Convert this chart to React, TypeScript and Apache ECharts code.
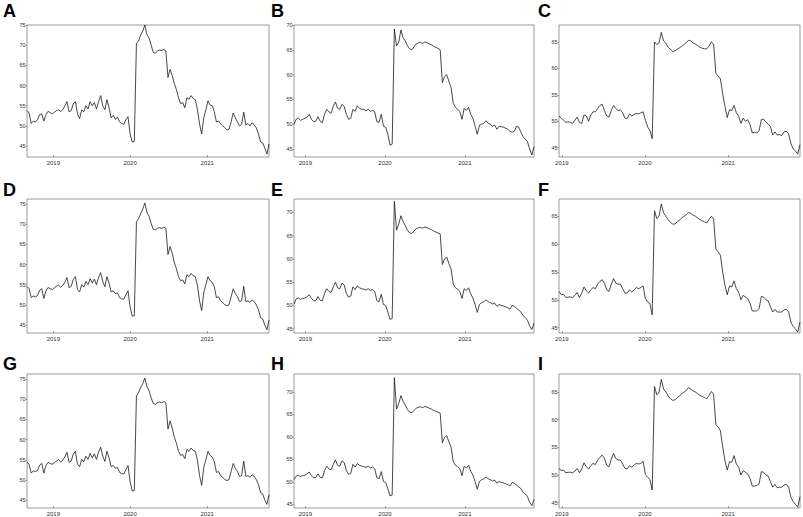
import React, { useEffect, useRef } from "react";
import * as echarts from "echarts";

// ---- data ----
const letters = ["A", "B", "C", "D", "E", "F", "G", "H", "I"];
const yearTicks = [2019, 2020, 2021];
const stepDays = 10;
// sampling start (UTC y, m, d) and point counts per column
const colStartYMD = [
  [2018, 7, 29],
  [2018, 10, 10],
  [2018, 11, 19],
];
const colCount = [116, 111, 107];

const seriesA = [
  53.8, 53.2, 50.6, 51.2, 51.0, 51.5, 52.8, 53.0, 51.2, 52.8,
  53.6, 53.3, 53.0, 53.4, 53.8, 54.0, 53.6, 54.0, 55.0, 56.0,
  53.5, 53.8, 55.5, 56.0, 53.0, 51.8, 54.0, 53.5, 55.0, 54.2,
  56.0, 55.0, 55.8, 54.2, 56.0, 57.5, 55.0, 54.0, 56.5, 54.5,
  52.0, 52.6, 51.6, 52.2, 51.0, 50.6, 50.4, 51.5, 52.3, 48.0,
  46.0, 46.2, 70.5, 71.0, 72.5, 73.5, 75.0, 72.6, 71.8, 70.0,
  68.2, 68.0, 68.6, 68.8, 68.7, 68.9, 68.6, 62.0, 64.0, 62.5,
  60.5, 59.0, 57.0, 55.5, 55.8, 54.5, 57.0, 56.6, 57.5, 56.8,
  56.5, 54.0, 50.5, 48.0, 52.0, 54.0, 56.2, 55.2, 55.0, 53.5,
  51.0, 51.2, 50.5, 50.0, 49.5, 49.0, 49.2, 51.0, 53.2, 52.0,
  51.0, 50.0, 50.4, 53.4, 50.2, 50.6, 50.0, 50.8, 50.2, 49.5,
  48.0, 46.0, 45.8, 44.5, 43.0, 45.5,
];
const seriesB = [
  50.0, 51.0, 51.2, 50.8, 51.0, 51.2, 51.4, 52.0, 51.0, 50.5,
  50.6, 51.5, 50.6, 50.3, 52.0, 53.0, 52.5, 52.2, 53.6, 54.5,
  53.2, 53.0, 54.0, 53.6, 52.0, 51.0, 51.2, 53.0, 52.6, 53.7,
  53.2, 53.0, 53.0, 52.7, 53.0, 52.6, 52.8, 52.5, 50.5, 50.4,
  52.0, 49.6, 49.4, 48.0, 45.8, 46.0, 69.2, 65.8, 66.5, 69.0,
  67.4, 66.8, 65.8, 65.2, 65.0, 65.6, 66.2, 66.4, 66.5, 66.3,
  66.6, 66.4, 66.2, 66.0, 65.7, 65.5, 65.3, 65.0, 58.4, 59.6,
  60.0, 58.6, 57.4, 54.2, 53.4, 53.0, 52.6, 51.0, 53.2, 52.8,
  53.4, 52.0, 51.2, 49.6, 48.0, 49.8, 50.0, 50.2, 50.7, 50.2,
  50.0, 49.6, 49.8, 49.0, 49.6, 49.5, 49.4, 49.2, 49.0, 48.6,
  48.4, 48.6, 49.6, 49.4, 48.4, 47.5, 47.0, 46.5, 45.0, 43.8,
  45.5,
];
const seriesC = [
  51.0, 50.6, 50.2, 49.8, 49.9, 49.8, 49.6, 50.2, 50.8, 49.8,
  49.6, 51.2, 51.0, 50.0, 51.2, 51.8, 51.8, 52.4, 53.0, 53.2,
  52.0, 51.0, 50.8, 52.0, 53.0, 52.4, 52.0, 52.2, 51.6, 50.6,
  50.5, 51.4, 51.0, 51.3, 51.5, 51.4, 51.6, 51.8, 50.2, 48.9,
  48.3, 46.7, 65.0, 64.5, 64.8, 66.8, 65.2, 64.8, 64.0, 63.6,
  63.2, 63.3, 63.6, 63.9, 64.2, 64.5, 64.9, 65.3, 65.2, 64.8,
  64.6, 64.3, 64.0, 63.8, 63.7, 63.7, 64.2, 65.0, 64.6, 59.0,
  58.6, 58.0, 55.2, 52.8, 50.7, 52.2, 52.0, 53.0, 51.6, 51.0,
  49.6, 50.6, 50.0, 50.3, 49.4, 47.8, 47.9, 47.8, 48.2, 50.3,
  50.4, 49.8, 49.5, 49.0, 47.4, 48.0, 47.4, 47.5, 47.3, 48.0,
  48.1, 47.6, 45.8, 44.8, 44.4, 43.8, 45.6,
];
const seriesD = [
  54.6, 54.0, 51.8, 52.2, 52.0, 52.3, 53.6, 54.0, 51.6, 53.5,
  54.3, 54.0, 53.8, 54.2, 54.6, 54.9, 54.4, 54.8, 55.6, 56.8,
  54.3, 54.6, 56.3, 57.0, 53.8, 53.2, 55.0, 54.4, 55.8, 55.0,
  56.5, 55.4, 56.4, 55.0, 56.8, 58.0, 55.8, 54.5, 57.0, 55.4,
  53.2, 53.5, 52.8, 53.0, 51.8, 51.5, 51.4, 52.5, 53.5, 49.5,
  47.2, 47.3, 70.6, 71.4, 72.6, 73.8, 75.3, 73.0, 72.0, 70.2,
  68.8, 68.6, 69.0, 69.2, 69.0, 69.3, 69.0, 62.5, 64.5, 62.8,
  60.5, 59.0, 57.0, 56.0, 56.2, 55.2, 57.5, 57.0, 57.8, 57.2,
  57.0, 54.8, 51.0, 48.6, 53.0, 55.0, 57.0, 56.0, 55.6, 54.5,
  51.8, 52.0, 51.0, 50.6, 50.0, 49.8, 50.0, 52.0, 54.0, 52.8,
  52.0, 50.8, 51.0, 54.6, 50.8, 51.0, 50.6, 51.2, 50.8, 50.0,
  48.8, 46.8, 46.5, 45.0, 43.8, 46.2,
];
const seriesE = [
  50.3, 51.4, 51.6, 51.3, 51.5, 51.6, 51.9, 52.3, 51.5, 51.0,
  51.0, 51.9, 51.1, 51.0, 52.6, 53.6, 53.0, 52.8, 54.0, 55.0,
  53.8, 53.6, 54.8, 54.4, 52.6, 51.8, 52.0, 54.0, 53.4, 54.2,
  53.8, 53.6, 53.5, 53.3, 53.6, 53.2, 53.4, 53.0, 51.0, 50.8,
  52.4, 50.2, 50.0, 48.6, 47.0, 47.2, 72.4, 66.2, 67.5, 69.3,
  68.0, 67.2, 66.2, 65.6, 65.5, 66.0, 66.5, 66.7, 66.8, 66.6,
  66.9, 66.7, 66.5, 66.3, 66.0, 65.8, 65.6, 65.4, 58.8, 60.0,
  60.4, 59.0, 57.8, 54.6, 53.8, 53.5, 53.0, 51.5, 53.6, 53.2,
  53.8, 52.5, 51.6, 50.2, 48.5, 50.2, 50.6, 50.8, 51.2, 50.8,
  50.6, 50.3, 50.5, 49.8, 50.2, 50.0, 49.9, 49.7, 49.5, 49.2,
  50.0, 49.8, 49.4, 49.0, 48.6, 47.8, 47.4, 46.8, 45.6, 44.8,
  46.2,
];
const seriesF = [
  51.5, 50.9, 51.0, 50.4, 50.5, 50.5, 50.4, 50.8, 51.3, 50.4,
  51.2, 52.3, 51.6, 51.2, 51.8, 52.2, 52.0, 52.8, 53.3, 53.6,
  53.0, 51.8, 51.5, 52.8, 53.8, 53.0, 52.8, 52.8, 52.0, 51.2,
  51.2, 51.8, 51.4, 51.8, 52.2, 52.0, 52.2, 52.5, 50.2, 49.6,
  49.3, 47.3, 66.0, 64.6, 65.0, 67.2, 65.6, 65.0, 64.4, 63.9,
  63.6, 63.6, 64.0, 64.3, 64.7, 65.0, 65.3, 65.7, 65.5, 65.2,
  65.0, 64.7, 64.4, 64.2, 64.0, 63.8, 64.4, 65.0, 64.6, 59.1,
  58.6, 58.0, 55.0, 52.6, 50.9, 52.5, 52.3, 53.4, 52.0, 51.4,
  50.0, 50.8, 50.5, 50.2, 49.4, 48.0, 48.0, 48.0, 48.4, 50.6,
  50.5, 50.0, 49.8, 48.8, 47.8, 48.3, 47.8, 47.8, 47.8, 48.2,
  48.3, 47.8, 46.0, 45.2, 44.8, 44.2, 46.0,
];
const seriesG = [
  54.4, 53.9, 51.7, 52.3, 52.1, 52.4, 53.7, 54.1, 51.7, 53.6,
  54.4, 54.1, 53.9, 54.3, 54.7, 55.0, 54.5, 54.9, 55.7, 56.9,
  54.4, 54.7, 56.4, 57.1, 53.9, 53.3, 55.1, 54.5, 55.9, 55.1,
  56.6, 55.5, 56.5, 55.1, 56.9, 58.1, 55.9, 54.6, 57.1, 55.5,
  53.3, 53.6, 52.9, 53.1, 51.9, 51.6, 51.5, 52.6, 53.6, 49.6,
  47.3, 47.4, 70.8, 71.6, 72.8, 73.8, 75.2, 73.1, 72.1, 70.3,
  68.9, 68.7, 69.1, 69.3, 69.1, 69.4, 69.1, 62.6, 64.6, 62.9,
  60.6, 59.1, 57.1, 56.1, 56.3, 55.3, 57.6, 57.1, 57.9, 57.3,
  57.1, 54.9, 51.1, 48.7, 53.1, 55.1, 57.1, 56.1, 55.7, 54.6,
  51.9, 52.1, 51.1, 50.7, 50.1, 49.9, 50.1, 52.1, 54.1, 52.9,
  52.1, 50.9, 51.1, 54.7, 50.9, 51.1, 50.7, 51.3, 50.9, 50.1,
  48.9, 46.9, 46.6, 45.1, 44.0, 46.4,
];
const seriesH = [
  50.5, 51.3, 51.5, 51.2, 51.4, 51.5, 51.8, 52.2, 51.4, 50.9,
  51.0, 51.8, 51.0, 50.9, 52.5, 53.5, 52.9, 52.7, 53.9, 54.9,
  53.7, 53.5, 54.7, 54.3, 52.5, 51.7, 51.9, 53.9, 53.3, 54.1,
  53.7, 53.5, 53.4, 53.2, 53.5, 53.1, 53.3, 52.9, 50.9, 50.7,
  52.3, 50.1, 49.9, 48.5, 46.9, 47.1, 73.2, 66.2, 67.4, 69.2,
  67.9, 67.1, 66.1, 65.5, 65.4, 65.9, 66.4, 66.6, 66.7, 66.5,
  66.8, 66.6, 66.4, 66.2, 65.9, 65.7, 65.5, 65.3, 58.7, 59.9,
  60.3, 58.9, 57.7, 54.5, 53.7, 53.4, 52.9, 51.4, 53.5, 53.1,
  53.7, 52.4, 51.5, 50.1, 48.4, 50.1, 50.5, 50.7, 51.1, 50.7,
  50.5, 50.2, 50.4, 49.7, 50.1, 49.9, 49.8, 49.6, 49.4, 49.1,
  49.9, 49.7, 49.3, 48.9, 48.5, 47.7, 47.3, 46.7, 45.5, 44.7,
  46.1,
];
const seriesI = [
  51.2, 50.8, 50.9, 50.4, 50.5, 50.5, 50.4, 50.7, 51.2, 50.4,
  51.1, 52.2, 51.5, 51.1, 51.7, 52.1, 51.9, 52.7, 53.2, 53.6,
  53.0, 51.8, 51.5, 52.8, 53.9, 53.0, 52.7, 52.7, 52.0, 51.2,
  51.1, 51.7, 51.4, 51.8, 52.1, 52.0, 52.1, 52.5, 50.1, 49.6,
  49.2, 47.3, 66.0, 64.5, 64.9, 67.3, 65.5, 65.0, 64.3, 63.8,
  63.5, 63.6, 64.0, 64.3, 64.7, 65.0, 65.3, 65.8, 65.5, 65.2,
  65.0, 64.7, 64.4, 64.2, 64.0, 63.8, 64.4, 65.1, 64.6, 59.1,
  58.7, 58.0, 55.1, 52.6, 50.9, 52.4, 52.3, 53.5, 52.0, 51.4,
  50.0, 50.8, 50.5, 50.2, 49.4, 48.0, 48.0, 48.1, 48.4, 50.6,
  50.5, 50.0, 49.8, 48.8, 47.8, 48.3, 47.7, 47.8, 47.8, 48.2,
  48.3, 47.8, 46.0, 45.2, 44.7, 44.2, 46.1,
];
const allSeries = [seriesA, seriesB, seriesC, seriesD, seriesE, seriesF, seriesG, seriesH, seriesI];

const yMinAll = [42.3, 43.4, 43.25, 43.0, 44.07, 44.04, 43.1, 44.2, 44.04];
const yMaxAll = [75.0, 70.0, 68.2, 76.3, 72.9, 68.1, 76.2, 74.0, 68.26];
const yTicks1 = [45, 50, 55, 60, 65, 70, 75];
const yTicks2 = [45, 50, 55, 60, 65, 70];
const yTicks3 = [45, 50, 55, 60, 65];
const yTicksAll = [yTicks1, yTicks2, yTicks3, yTicks1, yTicks2, yTicks3, yTicks1, yTicks2, yTicks3];

// ---- layout ----
const colLeft = [27, 294, 559];
const colWidth = [242, 240, 241];
const rowTop = [25, 199, 374];
const rowHeight = [132, 134, 134];
const letterX = [3, 271, 538];
const letterY = [10.5, 189.5, 363.5];

const DAY = 86400000;

export default function App() {
  const ref = useRef<HTMLDivElement>(null);
  useEffect(() => {
    if (!ref.current) return;
    const chart = echarts.init(ref.current, undefined, { renderer: "svg" });
    const grids: any[] = [];
    const xAxes: any[] = [];
    const yAxes: any[] = [];
    const series: any[] = [];
    const graphics: any[] = [];
    const yearTs = yearTicks.map((y) => Date.UTC(y, 0, 1));
    const font = '"Liberation Sans", Arial, Helvetica, sans-serif';

    for (let k = 0; k < 9; k++) {
      const r = Math.floor(k / 3);
      const c = k % 3;
      const [sy, sm, sd] = colStartYMD[c];
      const start = Date.UTC(sy, sm, sd);
      const end = start + (colCount[c] - 1) * stepDays * DAY;
      grids.push({
        left: colLeft[c],
        top: rowTop[r],
        width: colWidth[c],
        height: rowHeight[r],
        show: true,
        borderColor: "#808080",
        borderWidth: 0.8,
        backgroundColor: "transparent",
      });
      xAxes.push({
        gridIndex: k,
        type: "value",
        min: start,
        max: end,
        axisLine: { show: false },
        splitLine: { show: false },
        axisTick: {
          show: true,
          inside: true,
          length: 2,
          customValues: yearTs,
          lineStyle: { color: "#666", width: 0.6 },
        },
        axisLabel: {
          customValues: yearTs,
          formatter: (v: number) => String(new Date(v).getUTCFullYear()),
          fontSize: 6,
          color: "#333",
          margin: 3,
          fontFamily: font,
        },
      });
      yAxes.push({
        gridIndex: k,
        type: "value",
        min: yMinAll[k],
        max: yMaxAll[k],
        axisLine: { show: false },
        splitLine: { show: false },
        axisTick: {
          show: true,
          length: 1.5,
          customValues: yTicksAll[k],
          lineStyle: { color: "#666", width: 0.6 },
        },
        axisLabel: {
          customValues: yTicksAll[k],
          fontSize: 5.5,
          color: "#333",
          margin: 1.5,
          fontFamily: font,
        },
      });
      const vals = allSeries[k];
      series.push({
        type: "line",
        xAxisIndex: k,
        yAxisIndex: k,
        data: vals.map((v, i) => [start + i * stepDays * DAY, v]),
        showSymbol: false,
        symbol: "none",
        silent: true,
        clip: true,
        lineStyle: { color: "#1a1a1a", width: 0.8 },
      });
      graphics.push({
        type: "text",
        x: letterX[c],
        y: letterY[r],
        style: {
          text: letters[k],
          fill: "#000",
          font: `bold 18px ${font}`,
          align: "left",
          verticalAlign: "middle",
        },
      });
    }

    chart.setOption({
      animation: false,
      backgroundColor: "#ffffff",
      grid: grids,
      xAxis: xAxes,
      yAxis: yAxes,
      series,
      graphic: graphics,
    });
    return () => chart.dispose();
  }, []);
  return (
    <div
      ref={ref}
      style={{ position: "fixed", left: 0, top: 0, width: 803, height: 517, background: "#fff" }}
    />
  );
}
